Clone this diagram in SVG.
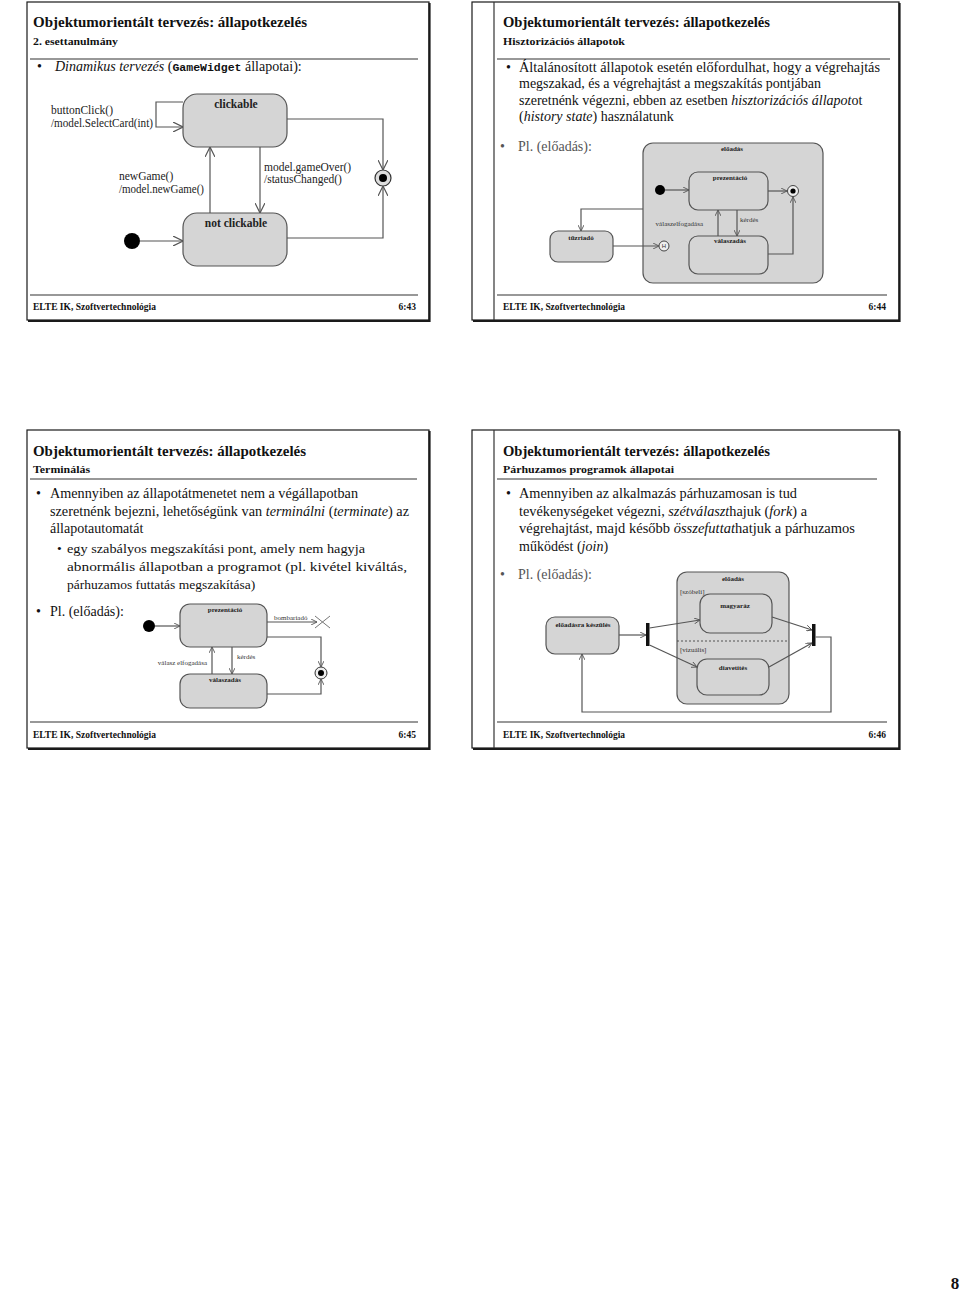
<svg xmlns="http://www.w3.org/2000/svg" width="960" height="1293" viewBox="0 0 960 1293">
<style>
.frame{fill:#fff;stroke:#1a1a1a;stroke-width:1.2}
.shadow{fill:none;stroke:#1a1a1a;stroke-width:2.2}
.rule{stroke:#333;stroke-width:1.2}
.title{font-family:"Liberation Serif",serif;font-weight:bold;font-size:15px;fill:#111}
.sub{font-family:"Liberation Serif",serif;font-weight:bold;font-size:11px;fill:#111}
.body{font-family:"Liberation Serif",serif;font-size:14px;fill:#111}
.body2{font-family:"Liberation Serif",serif;font-size:13.5px;fill:#111}
.mono{font-family:"Liberation Mono",monospace;font-weight:bold;font-size:11.5px}
.foot{font-family:"Liberation Serif",serif;font-weight:bold;font-size:9.5px;fill:#111}
.pl{font-family:"Liberation Serif",serif;font-size:14px;fill:#555}
.st{fill:#d5d5d5;stroke:#555;stroke-width:1.2}
.ln{fill:none;stroke:#555;stroke-width:1.2}
.lbl{font-family:"Liberation Serif",serif;font-size:11.5px;fill:#222}
.lblb{font-family:"Liberation Serif",serif;font-size:11.5px;font-weight:bold;fill:#222;text-anchor:middle}
.s{font-family:"Liberation Serif",serif;font-size:7px;fill:#333}
.sb{font-family:"Liberation Serif",serif;font-size:7px;font-weight:bold;fill:#222;text-anchor:middle}
</style>
<defs>
<marker id="arr" viewBox="0 0 10 10" refX="10" refY="5" markerWidth="10" markerHeight="10" markerUnits="userSpaceOnUse" orient="auto">
<path d="M0,0 L10,5 L0,10" fill="none" stroke="#555" stroke-width="1.2"/>
</marker>
<marker id="arrs" viewBox="0 0 10 10" refX="10" refY="5" markerWidth="6" markerHeight="6" markerUnits="userSpaceOnUse" orient="auto">
<path d="M0,0 L10,5 L0,10" fill="none" stroke="#555" stroke-width="1.5"/>
</marker>
</defs>
<rect width="960" height="1293" fill="#fff"/>

<!-- Slide 1 -->
<g id="slide1">
<rect class="frame" x="27" y="2" width="402" height="318"/>
<path class="shadow" d="M429.5,3 V321 H28"/>
<text class="title" x="33" y="27" textLength="274" lengthAdjust="spacingAndGlyphs">Objektumorientált tervezés: állapotkezelés</text>
<text class="sub" x="33" y="45" textLength="85" lengthAdjust="spacingAndGlyphs">2. esettanulmány</text>
<line class="rule" x1="30" y1="59" x2="418" y2="59"/>
<text class="body" x="37" y="71">•</text>
<text class="body" x="55" y="71"><tspan font-style="italic">Dinamikus tervezés</tspan> (<tspan class="mono">GameWidget</tspan> állapotai):</text>
<line class="rule" x1="30" y1="295" x2="418" y2="295"/>
<text class="foot" x="33" y="310" textLength="123" lengthAdjust="spacingAndGlyphs">ELTE IK, Szoftvertechnológia</text>
<text class="foot" x="416" y="310" text-anchor="end">6:43</text>
</g>
<g id="s1-clickable">
<rect class="st" x="183" y="94" width="104" height="53" rx="14"/>
<text class="lblb" x="236" y="108">clickable</text>
</g>
<g id="s1-notclickable">
<rect class="st" x="183" y="213" width="104" height="53" rx="14"/>
<text class="lblb" x="236" y="227">not clickable</text>
</g>
<g id="s1-initial"><circle cx="132" cy="241" r="8" fill="#000"/></g>
<g id="s1-final"><circle cx="383" cy="178" r="8" fill="#ddd" stroke="#333" stroke-width="1.2"/><circle cx="383" cy="178" r="4" fill="#000"/></g>
<g id="s1-connectors">
<path class="ln" d="M183,102 H156 V127 H183" marker-end="url(#arr)"/>
<path class="ln" d="M210,213 V147" marker-end="url(#arr)"/>
<path class="ln" d="M260,147 V213" marker-end="url(#arr)"/>
<path class="ln" d="M287,119 H383 V170" marker-end="url(#arr)"/>
<path class="ln" d="M287,238 H383 V186" marker-end="url(#arr)"/>
<path class="ln" d="M140,241 H183" marker-end="url(#arr)"/>
<text class="lbl" x="51" y="114">buttonClick()</text>
<text class="lbl" x="51" y="127" textLength="102" lengthAdjust="spacingAndGlyphs">/model.SelectCard(int)</text>
<text class="lbl" x="119" y="180">newGame()</text>
<text class="lbl" x="119" y="193" textLength="85" lengthAdjust="spacingAndGlyphs">/model.newGame()</text>
<text class="lbl" x="264" y="171">model.gameOver()</text>
<text class="lbl" x="264" y="183">/statusChanged()</text>
</g>

<!-- Slide 2 -->
<g id="slide2">
<rect class="frame" x="472" y="2" width="427" height="318"/>
<path class="shadow" d="M899.5,3 V321 H473"/>
<line class="rule" x1="494" y1="2" x2="494" y2="320"/>
<text class="title" x="503" y="27" textLength="267" lengthAdjust="spacingAndGlyphs">Objektumorientált tervezés: állapotkezelés</text>
<text class="sub" x="503" y="45" textLength="122" lengthAdjust="spacingAndGlyphs">Hisztorizációs állapotok</text>
<line class="rule" x1="497" y1="59" x2="890" y2="59"/>
<text class="body" x="506" y="72">•</text>
<text class="body" x="519" y="72" textLength="361" lengthAdjust="spacingAndGlyphs">Általánosított állapotok esetén előfordulhat, hogy a végrehajtás</text>
<text class="body" x="519" y="88">megszakad, és a végrehajtást a megszakítás pontjában</text>
<text class="body" x="519" y="105">szeretnénk végezni, ebben az esetben <tspan font-style="italic">hisztorizációs állapot</tspan>ot</text>
<text class="body" x="519" y="121">(<tspan font-style="italic">history state</tspan>) használatunk</text>
<text class="pl" x="500" y="151">•</text>
<text class="pl" x="518" y="151">Pl. (előadás):</text>
<line class="rule" x1="497" y1="295" x2="887" y2="295"/>
<text class="foot" x="503" y="310" textLength="122" lengthAdjust="spacingAndGlyphs">ELTE IK, Szoftvertechnológia</text>
<text class="foot" x="886" y="310" text-anchor="end">6:44</text>
</g>
<g id="s2-eloadas">
<rect class="st" x="643" y="143" width="180" height="140" rx="10"/>
<text class="sb" x="732" y="151">előadás</text>
</g>
<g id="s2-prezentacio">
<rect class="st" x="689" y="172" width="79" height="38" rx="9"/>
<text class="sb" x="730" y="180">prezentáció</text>
</g>
<g id="s2-valaszadas">
<rect class="st" x="689" y="236" width="79" height="38" rx="9"/>
<text class="sb" x="730" y="243">válaszadás</text>
</g>
<g id="s2-tuzriado">
<rect class="st" x="550" y="231" width="63" height="31" rx="8"/>
<text class="sb" x="581" y="240">tűzriadó</text>
</g>
<g id="s2-initial"><circle cx="660" cy="190" r="5" fill="#000"/></g>
<g id="s2-final"><circle cx="793" cy="191" r="5.5" fill="#eee" stroke="#333" stroke-width="0.9"/><circle cx="793" cy="191" r="2.6" fill="#000"/></g>
<g id="s2-history"><circle cx="664" cy="246" r="5" fill="#eee" stroke="#333" stroke-width="0.9"/><text x="664" y="248.3" font-family="Liberation Sans, sans-serif" font-size="6" text-anchor="middle" fill="#333">H</text></g>
<g id="s2-connectors">
<path class="ln" d="M665,190 H689" marker-end="url(#arrs)"/>
<path class="ln" d="M768,191 H787" marker-end="url(#arrs)"/>
<path class="ln" d="M718,236 V210" marker-end="url(#arrs)"/>
<path class="ln" d="M737,210 V236" marker-end="url(#arrs)"/>
<path class="ln" d="M768,254 H793 V197" marker-end="url(#arrs)"/>
<path class="ln" d="M643,209 H581 V231" marker-end="url(#arrs)"/>
<path class="ln" d="M613,246 H659" marker-end="url(#arrs)"/>
<text class="s" x="703" y="226" text-anchor="end">válaszelfogadása</text>
<text class="s" x="740" y="222">kérdés</text>
</g>

<!-- Slide 3 -->
<g id="slide3">
<rect class="frame" x="27" y="430" width="402" height="318"/>
<path class="shadow" d="M429.5,431 V749 H28"/>
<text class="title" x="33" y="456" textLength="273" lengthAdjust="spacingAndGlyphs">Objektumorientált tervezés: állapotkezelés</text>
<text class="sub" x="33" y="473" textLength="57" lengthAdjust="spacingAndGlyphs">Terminálás</text>
<line class="rule" x1="30" y1="479" x2="417" y2="479"/>
<text class="body" x="36" y="498">•</text>
<text class="body" x="50" y="498" textLength="308" lengthAdjust="spacingAndGlyphs">Amennyiben az állapotátmenetet nem a végállapotban</text>
<text class="body" x="50" y="516" textLength="359" lengthAdjust="spacingAndGlyphs">szeretnénk bejezni, lehetőségünk van <tspan font-style="italic">terminálni</tspan> (<tspan font-style="italic">terminate</tspan>) az</text>
<text class="body" x="50" y="533">állapotautomatát</text>
<text class="body2" x="57" y="553">•</text>
<text class="body2" x="67" y="553" textLength="298" lengthAdjust="spacingAndGlyphs">egy szabályos megszakítási pont, amely nem hagyja</text>
<text class="body2" x="67" y="571" textLength="340" lengthAdjust="spacingAndGlyphs">abnormális állapotban a programot (pl. kivétel kiváltás,</text>
<text class="body2" x="67" y="589">párhuzamos futtatás megszakítása)</text>
<text class="body" x="36" y="616">•</text>
<text class="body" x="50" y="616">Pl. (előadás):</text>
<line class="rule" x1="30" y1="722" x2="418" y2="722"/>
<text class="foot" x="33" y="738" textLength="123" lengthAdjust="spacingAndGlyphs">ELTE IK, Szoftvertechnológia</text>
<text class="foot" x="416" y="738" text-anchor="end">6:45</text>
</g>
<g id="s3-prezentacio">
<rect class="st" x="180" y="604" width="87" height="43" rx="10"/>
<text class="sb" x="225" y="612">prezentáció</text>
</g>
<g id="s3-valaszadas">
<rect class="st" x="180" y="674" width="87" height="34" rx="10"/>
<text class="sb" x="225" y="682">válaszadás</text>
</g>
<g id="s3-initial"><circle cx="149" cy="626" r="6" fill="#000"/></g>
<g id="s3-final"><circle cx="321" cy="673" r="6" fill="#eee" stroke="#333" stroke-width="1"/><circle cx="321" cy="673" r="3" fill="#000"/></g>
<g id="s3-terminate"><path d="M315,616 L330,628 M330,616 L315,628" stroke="#777" stroke-width="1" fill="none"/></g>
<g id="s3-connectors">
<path class="ln" d="M155,626 H180" marker-end="url(#arrs)"/>
<path class="ln" d="M267,622 H317" marker-end="url(#arrs)"/>
<path class="ln" d="M267,637 H321 V667" marker-end="url(#arrs)"/>
<path class="ln" d="M267,694 H321 V679" marker-end="url(#arrs)"/>
<path class="ln" d="M212,674 V647" marker-end="url(#arrs)"/>
<path class="ln" d="M232,647 V674" marker-end="url(#arrs)"/>
<text class="s" x="274" y="620">bombariadó</text>
<text class="s" x="207" y="665" text-anchor="end">válasz elfogadása</text>
<text class="s" x="237" y="659">kérdés</text>
</g>

<!-- Slide 4 -->
<g id="slide4">
<rect class="frame" x="472" y="430" width="427" height="318"/>
<path class="shadow" d="M899.5,431 V749 H473"/>
<line class="rule" x1="494" y1="430" x2="494" y2="748"/>
<text class="title" x="503" y="456" textLength="267" lengthAdjust="spacingAndGlyphs">Objektumorientált tervezés: állapotkezelés</text>
<text class="sub" x="503" y="473" textLength="171" lengthAdjust="spacingAndGlyphs">Párhuzamos programok állapotai</text>
<line class="rule" x1="497" y1="479" x2="877" y2="479"/>
<text class="body" x="506" y="498">•</text>
<text class="body" x="519" y="498" textLength="278" lengthAdjust="spacingAndGlyphs">Amennyiben az alkalmazás párhuzamosan is tud</text>
<text class="body" x="519" y="516" textLength="288" lengthAdjust="spacingAndGlyphs">tevékenységeket végezni, <tspan font-style="italic">szétválaszt</tspan>hajuk (<tspan font-style="italic">fork</tspan>) a</text>
<text class="body" x="519" y="533" textLength="336" lengthAdjust="spacingAndGlyphs">végrehajtást, majd később <tspan font-style="italic">összefuttat</tspan>hatjuk a párhuzamos</text>
<text class="body" x="519" y="551">működést (<tspan font-style="italic">join</tspan>)</text>
<text class="pl" x="500" y="579">•</text>
<text class="pl" x="518" y="579">Pl. (előadás):</text>
<line class="rule" x1="497" y1="722" x2="887" y2="722"/>
<text class="foot" x="503" y="738" textLength="122" lengthAdjust="spacingAndGlyphs">ELTE IK, Szoftvertechnológia</text>
<text class="foot" x="886" y="738" text-anchor="end">6:46</text>
</g>
<g id="s4-eloadas">
<rect class="st" x="677" y="572" width="112" height="132" rx="10"/>
<text class="sb" x="733" y="581">előadás</text>
<line x1="677" y1="641" x2="789" y2="641" stroke="#444" stroke-width="0.9" stroke-dasharray="2,2"/>
<text class="s" x="680" y="594">[szóbeli]</text>
<text class="s" x="680" y="652">[vizuális]</text>
</g>
<g id="s4-magyaraz">
<rect class="st" x="700" y="594" width="72" height="39" rx="10"/>
<text class="sb" x="735" y="608">magyaráz</text>
</g>
<g id="s4-diavetites">
<rect class="st" x="697" y="659" width="72" height="36" rx="10"/>
<text class="sb" x="733" y="670">diavetítés</text>
</g>
<g id="s4-keszules">
<rect class="st" x="546" y="617" width="73" height="37" rx="9"/>
<text class="sb" x="583" y="627">előadásra készülés</text>
</g>
<g id="s4-fork"><rect x="646" y="623" width="3.5" height="23" fill="#111"/></g>
<g id="s4-join"><rect x="812" y="624" width="3.5" height="22" fill="#111"/></g>
<g id="s4-connectors">
<path class="ln" d="M619,635 H646" marker-end="url(#arrs)"/>
<path class="ln" d="M649.5,628 L700,620" marker-end="url(#arrs)"/>
<path class="ln" d="M649.5,645 L697,667" marker-end="url(#arrs)"/>
<path class="ln" d="M772,617 L812,630" marker-end="url(#arrs)"/>
<path class="ln" d="M769,667 L812,643" marker-end="url(#arrs)"/>
<path class="ln" d="M815.5,637 H831 V712 H582 V654" marker-end="url(#arrs)"/>
</g>

<g id="pagenum"><text x="955" y="1289" font-family="Liberation Serif, serif" font-weight="bold" font-size="17" text-anchor="middle" fill="#111">8</text></g>
</svg>
